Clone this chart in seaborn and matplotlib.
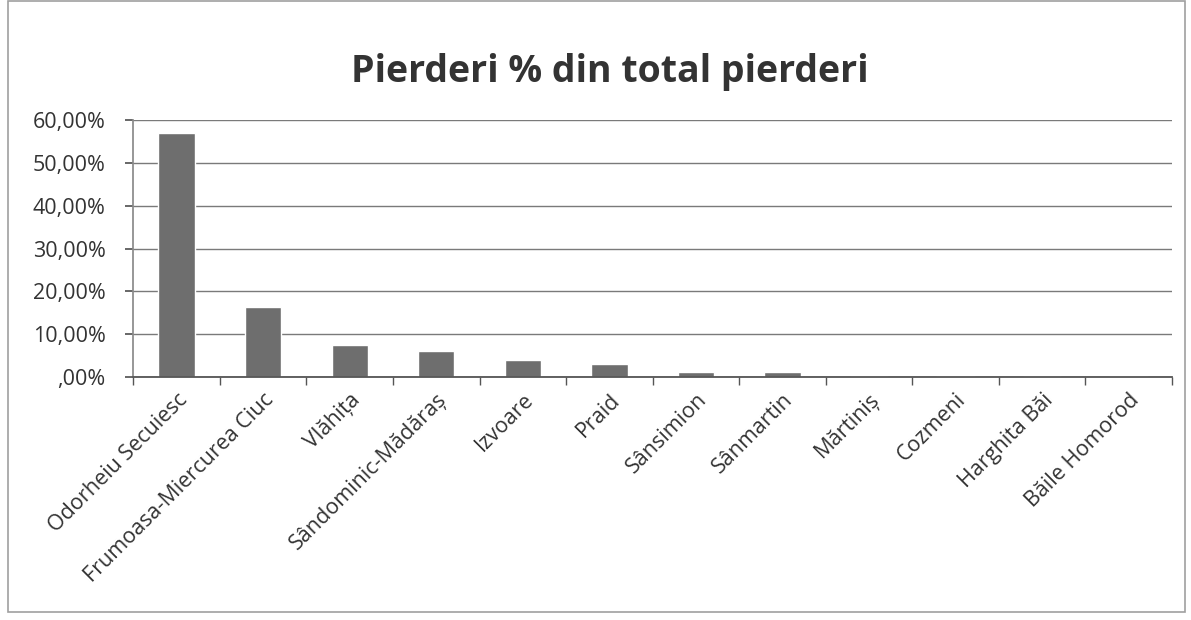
import matplotlib.pyplot as plt
import matplotlib.ticker as mticker
from matplotlib.patches import Rectangle
import pandas as pd
import seaborn as sns

sns.set_theme(style="white")
plt.rcParams['font.family'] = ['Open Sans', 'DejaVu Sans']

localitati = ["Odorheiu Secuiesc", "Frumoasa-Miercurea Ciuc", "Vlăhița",
              "Sândominic-Mădăraș", "Izvoare", "Praid", "Sânsimion",
              "Sânmartin", "Mărtiniș", "Cozmeni", "Harghita Băi", "Băile Homorod"]
pierderi = [0.570, 0.164, 0.075, 0.061, 0.040, 0.030, 0.012,
            0.012, 0.003, 0.003, 0.002, 0.002]

df = pd.DataFrame({"Localitate": localitati, "Pierderi": pierderi})


def fmt_pct(v, pos):
    # excel style: ,00% for zero, 10,00% etc
    if abs(v) < 1e-9:
        return ",00%"
    return ("%.2f%%" % (v * 100)).replace(".", ",")


fig = plt.figure(figsize=(11.91, 6.2), dpi=100)
ax = fig.add_axes([0.112, 0.392, 0.872, 0.414])

sns.barplot(data=df, x="Localitate", y="Pierderi", color="#6e6e6e",
            width=0.42, saturation=1, ax=ax)

ax.set_ylim(0, 0.6)
ax.set_xlim(-0.5, len(localitati) - 0.5)
ax.yaxis.set_major_locator(mticker.MultipleLocator(0.1))
ax.yaxis.set_major_formatter(mticker.FuncFormatter(fmt_pct))
ax.grid(axis="y", color="#7a7a7a", linewidth=1)
ax.set_axisbelow(True)
for s in ["top", "right"]:
    ax.spines[s].set_visible(False)
ax.spines["left"].set_color("#8a8a8a")
ax.spines["bottom"].set_color("#555555")
ax.spines["bottom"].set_linewidth(1.3)

ax.set_xlabel("")
ax.set_ylabel("")
ax.tick_params(axis="y", left=True, length=6, color="#555555", pad=14,
               labelsize=15.5, labelcolor="#333333")
ax.tick_params(axis="x", bottom=False, labelsize=15.5, labelcolor="#333333", pad=3)
ax.set_xticks([i + 0.5 for i in range(-1, len(localitati))], minor=True)
ax.tick_params(axis="x", which="minor", bottom=True, length=6, color="#555555")
ax.set_xticklabels(localitati, rotation=45, ha="right", rotation_mode="anchor")

fig.suptitle("Pierderi % din total pierderi", x=0.512, y=0.915,
             fontsize=27, fontweight="bold", color="#333333")

fig.patches.append(Rectangle((0.007, 0.013), 0.988, 0.985, transform=fig.transFigure,
                             fill=False, edgecolor="#a0a0a0", linewidth=1.2))

fig.savefig("out.png", dpi=100, facecolor="white")
